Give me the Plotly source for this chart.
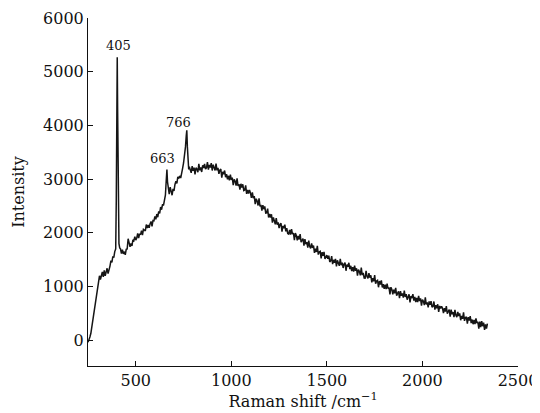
import plotly.graph_objects as go

# Raman shift (cm^-1) and intensity
shift = [
    250, 255, 260, 265, 270, 275, 280, 285, 290, 295, 300, 305, 310, 315, 320, 325,
    330, 335, 340, 345, 350, 355, 360, 365, 370, 375, 380, 385, 390, 395, 398, 400,
    403, 405, 407, 409, 412, 416,
    420, 425, 430, 435, 440, 445, 450, 455, 460, 465, 470, 475, 480, 485, 490, 495,
    500, 505, 510, 515, 520, 525, 530, 535, 540, 545, 550, 555, 560, 565, 570, 575,
    580, 585, 590, 595, 600, 605, 610, 615, 620, 625, 630, 635, 640, 645, 650, 655,
    659, 663, 666, 670, 675, 680, 685, 690, 695, 700, 705, 710, 715, 720, 725, 730,
    735, 740, 745, 750, 755, 760, 764, 767, 770, 773, 777, 780,
    785, 790, 795, 800, 805, 810, 815, 820, 825, 830, 835, 840, 845, 850, 855, 860,
    865, 870, 875, 880, 885, 890, 895, 900, 905, 910, 915, 920, 925, 930, 935, 940,
    945, 950, 955, 960, 965, 970, 975, 980, 985, 990, 995, 1000, 1005, 1010, 1015,
    1020, 1025, 1030, 1035, 1040, 1045, 1050, 1055, 1060, 1065, 1070, 1075, 1080,
    1085, 1090, 1095,
    1100, 1105, 1110, 1115, 1120, 1125, 1130, 1135, 1140, 1145, 1150, 1155, 1160,
    1165, 1170, 1175, 1180, 1185, 1190, 1195, 1200, 1205, 1210, 1215, 1220, 1225,
    1230, 1235, 1240, 1245, 1250, 1255, 1260, 1265, 1270, 1275, 1280, 1285, 1290, 1295,
    1300, 1305, 1310, 1315, 1320, 1325, 1330, 1335, 1340, 1345, 1350, 1355, 1360,
    1365, 1370, 1375, 1380, 1385, 1390, 1395, 1400, 1405, 1410, 1415, 1420, 1425,
    1430, 1435, 1440, 1445, 1450, 1455, 1460, 1465, 1470, 1475, 1480, 1485, 1490, 1495,
    1500, 1505, 1510, 1515, 1520, 1525, 1530, 1535, 1540, 1545, 1550, 1555, 1560,
    1565, 1570, 1575, 1580, 1585, 1590, 1595, 1600, 1605, 1610, 1615, 1620, 1625,
    1630, 1635, 1640, 1645, 1650, 1655, 1660, 1665, 1670, 1675, 1680, 1685, 1690, 1695,
    1700, 1705, 1710, 1715, 1720, 1725, 1730, 1735, 1740, 1745, 1750, 1755, 1760,
    1765, 1770, 1775, 1780, 1785, 1790, 1795, 1800, 1805, 1810, 1815, 1820, 1825,
    1830, 1835, 1840, 1845, 1850, 1855, 1860, 1865, 1870, 1875, 1880, 1885, 1890, 1895,
    1900, 1905, 1910, 1915, 1920, 1925, 1930, 1935, 1940, 1945, 1950, 1955, 1960,
    1965, 1970, 1975, 1980, 1985, 1990, 1995, 2000, 2005, 2010, 2015, 2020, 2025,
    2030, 2035, 2040, 2045, 2050, 2055, 2060, 2065, 2070, 2075, 2080, 2085, 2090, 2095,
    2100, 2105, 2110, 2115, 2120, 2125, 2130, 2135, 2140, 2145, 2150, 2155, 2160,
    2165, 2170, 2175, 2180, 2185, 2190, 2195, 2200, 2205, 2210, 2215, 2220, 2225,
    2230, 2235, 2240, 2245, 2250, 2255, 2260, 2265, 2270, 2275, 2280, 2285, 2290, 2295,
    2300, 2305, 2310, 2315, 2320, 2325, 2330, 2335, 2340,
]

intensity = [
    -40, 0, 60, 130, 250, 380, 500, 640, 760, 880, 1010, 1150, 1200, 1130, 1210, 1270,
    1180, 1300, 1200, 1250, 1340, 1240, 1300, 1380, 1480, 1450, 1560, 1540, 1650, 1700, 2600, 3900,
    5270, 4300, 3000, 2100, 1800, 1720,
    1700, 1614, 1684, 1608, 1650, 1590, 1694, 1701, 1890, 1817, 1741, 1802, 1756, 1871, 1854, 1926,
    1865, 1901, 1990, 1900, 1983, 1965, 2042, 1958, 2065, 2053, 2034, 2154, 2087, 2147, 2092, 2170,
    2211, 2121, 2228, 2222, 2304, 2250, 2350, 2290, 2400, 2360, 2480, 2430, 2530, 2510, 2610, 2700,
    2950, 3180, 2950, 2780, 2720, 2850, 2760, 2700, 2820, 2780, 2900, 2960, 2920, 3040, 3010, 3060,
    3020, 3150, 3200, 3300, 3420, 3600, 3800, 3910, 3600, 3350, 3180, 3230,
    3187, 3117, 3240, 3154, 3213, 3087, 3210, 3188, 3129, 3286, 3163, 3216, 3133, 3258, 3207, 3284,
    3185, 3214, 3315, 3176, 3264, 3216, 3296, 3160, 3270, 3220, 3162, 3288, 3164, 3207, 3099, 3166,
    3186, 3029, 3137, 3092, 3160, 3035, 3095, 2994, 3062, 2977, 3085, 2984, 3028, 2887, 2995,
    2958, 2879, 3016, 2873, 2906, 2806, 2913, 2845, 2904, 2788, 2799, 2883, 2726,
    2797, 2733, 2796,
    2744, 2653, 2753, 2646, 2683, 2535, 2636, 2592, 2509, 2641, 2494, 2522, 2415,
    2515, 2440, 2492, 2369, 2373, 2450, 2286, 2353, 2285, 2344, 2188, 2287, 2227,
    2158, 2276, 2152, 2196, 2088, 2156, 2176, 2020, 2128, 2084, 2152, 2028, 2088, 1988,
    1976, 2052, 1968, 2068, 1976, 1996, 1864, 1996, 1952, 1860, 1944, 1876, 1976,
    1828, 1864, 1892, 1760, 1883, 1790, 1826, 1725, 1856, 1748, 1711, 1802, 1718,
    1761, 1628, 1704, 1643, 1758, 1594, 1645, 1656, 1524, 1639, 1570, 1646, 1513, 1572,
    1584, 1515, 1574, 1459, 1476, 1566, 1416, 1497, 1443, 1516, 1374, 1487, 1441,
    1386, 1516, 1398, 1447, 1345, 1418, 1444, 1293, 1407, 1369, 1442, 1323, 1386,
    1289, 1360, 1279, 1390, 1293, 1340, 1203, 1314, 1281, 1208, 1351, 1214, 1253, 1156,
    1155, 1290, 1185, 1152, 1247, 1165, 1210, 1079, 1156, 1097, 1214, 1051, 1104,
    1117, 986, 1103, 1036, 1114, 983, 1045, 955, 1033, 950, 1052, 962, 984,
    854, 987, 945, 855, 941, 874, 976, 831, 873, 908, 782, 913, 827, 870,
    792, 923, 805, 856, 754, 829, 855, 706, 820, 783, 857, 739, 806,
    712, 787, 709, 824, 730, 779, 644, 757, 726, 655, 800, 665, 706,
    611, 724, 661, 726, 615, 632, 721, 570, 651, 596, 669, 526, 639, 592,
    633, 594, 506, 595, 532, 637, 494, 535, 568, 441, 570, 483, 524,
    429, 566, 463, 432, 529, 450, 499, 372, 453, 398, 519, 361, 418,
    435, 308, 429, 366, 447, 320, 385, 298, 379, 300, 405, 318, 343, 217,
    346, 243, 356, 261, 326, 191, 296, 217, 310,
]

x_ticks = [500, 1000, 1500, 2000, 2500]
y_ticks = [0, 1000, 2000, 3000, 4000, 5000, 6000]

peak_labels = ["405", "663", "766"]
peak_label_x = [407, 638, 722]
peak_label_y = [5490, 3390, 4060]

font_family = "DejaVu Serif"
ink = "#111111"

fig = go.Figure()
fig.add_trace(go.Scatter(x=shift, y=intensity, mode="lines",
                         line=dict(color="#151515", width=1.5), showlegend=False))

for t, xx, yy in zip(peak_labels, peak_label_x, peak_label_y):
    fig.add_annotation(x=xx, y=yy, text=t, showarrow=False,
                       font=dict(family=font_family, size=13, color=ink))

# the page body has an 8px margin, so the figure is sized to fit inside the window
fig.update_layout(
    width=532, height=405,
    margin=dict(l=80, r=22, t=10, b=47, autoexpand=False),
    plot_bgcolor="white", paper_bgcolor="white",
    font=dict(family=font_family, size=16, color=ink),
)
fig.update_xaxes(range=[250, 2500], tickvals=x_ticks, ticks="inside", ticklen=5,
                 tickcolor=ink, showline=True, linecolor=ink, linewidth=1,
                 showgrid=False, zeroline=False, automargin=False,
                 title=dict(text="Raman shift /cm<sup>−1</sup>", standoff=4,
                            font=dict(family=font_family, size=16, color=ink)),
                 tickfont=dict(family=font_family, size=16, color=ink))
fig.update_yaxes(range=[-480, 6000], tickvals=y_ticks, ticks="inside", ticklen=5,
                 tickcolor=ink, showline=True, linecolor=ink, linewidth=1,
                 showgrid=False, zeroline=False, automargin=False,
                 title=dict(text="Intensity", standoff=14,
                            font=dict(family=font_family, size=16, color=ink)),
                 tickfont=dict(family=font_family, size=16, color=ink))

fig.write_html("out.html")
